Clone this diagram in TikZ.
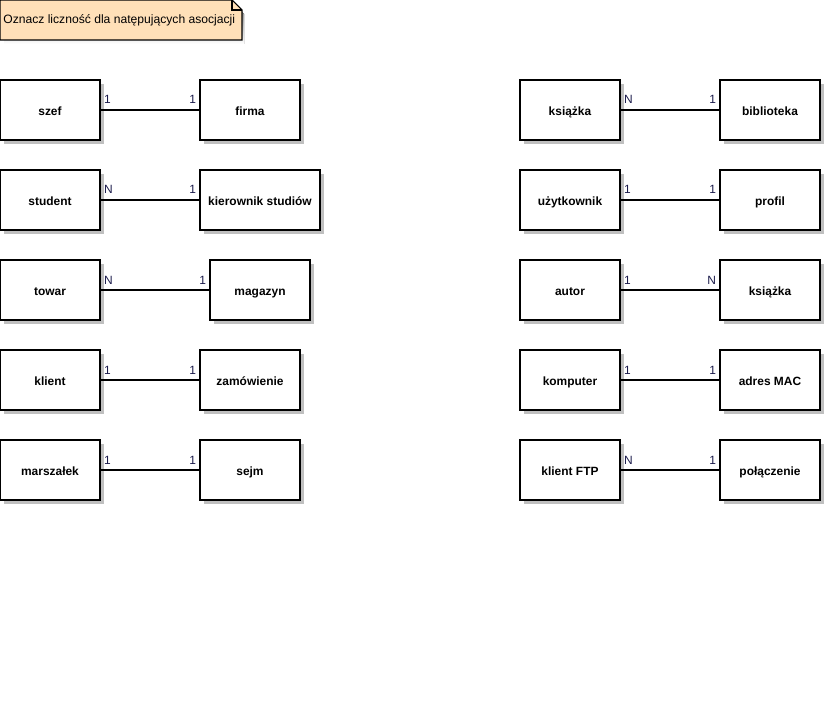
\documentclass[tikz,border=0pt]{standalone}
\usepackage{fontspec}
\setmainfont{Liberation Sans}
\usetikzlibrary{shadows}
\definecolor{notefill}{HTML}{FFE0B8}
\definecolor{shade}{HTML}{C0C0C0}
\definecolor{multi}{HTML}{1A1A4A}
\tikzset{
  entity/.style={draw, fill=white, line width=0.6pt, minimum height=1.2cm,
    minimum width=2cm, text height=1.55ex, text depth=0.45ex,
    font=\fontsize{6.8}{8}\selectfont\bfseries,
    drop shadow={shadow xshift=0.08cm, shadow yshift=-0.08cm, fill=shade, opacity=1}},
  rel/.style={line width=0.6pt},
  mult/.style={inner xsep=1.7pt, inner ysep=0pt, yshift=0.12cm, text=multi,
    font=\fontsize{6.8}{8}\selectfont}
}
\begin{document}
\begin{tikzpicture}[x = 0.02cm, y = -0.02cm]
	\useasboundingbox (0, 0) rectangle (825, 726);
	% Note
	\fill[shade] (4, 4) -- (234, 4) -- (244, 14) -- (244, 44) -- (4, 44) -- cycle;
	\draw[fill=notefill, line width=0.6pt] (0, 0) -- (232, 0) -- (242, 10) -- (242, 40) -- (0, 40) -- cycle;
	\draw[line width=0.6pt] (232, 0) -- (232, 10) -- (242, 10);
	\node[anchor=west, inner sep=0pt, font=\fontsize{6.9}{8}\selectfont] (note) at (3, 20) {Oznacz liczność dla natępujących asocjacji};

	% Nodes
	\node[entity] (szef) at (50, 110) {szef};
	\node[entity] (firma) at (250, 110) {firma};
	\node[entity] (student) at (50, 200) {student};
	\node[entity, minimum width=2.4cm] (kierownik) at (260, 200) {kierownik studiów};
	\node[entity] (towar) at (50, 290) {towar};
	\node[entity] (magazyn) at (260, 290) {magazyn};
	\node[entity] (klient) at (50, 380) {klient};
	\node[entity] (zamowienie) at (250, 380) {zamówienie};
	\node[entity] (marszalek) at (50, 470) {marszałek};
	\node[entity] (sejm) at (250, 470) {sejm};

	\node[entity] (ksiazka1) at (570, 110) {książka};
	\node[entity] (biblioteka) at (770, 110) {biblioteka};
	\node[entity] (uzytkownik) at (570, 200) {użytkownik};
	\node[entity] (profil) at (770, 200) {profil};
	\node[entity] (autor) at (570, 290) {autor};
	\node[entity] (ksiazka2) at (770, 290) {książka};
	\node[entity] (komputer) at (570, 380) {komputer};
	\node[entity] (mac) at (770, 380) {adres MAC};
	\node[entity] (ftp) at (570, 470) {klient FTP};
	\node[entity] (polaczenie) at (770, 470) {połączenie};

	% Edges
	\draw[rel] (szef) -- node[mult, pos=0, anchor=base west] {1} node[mult, pos=1, anchor=base east] {1} (firma);
	\draw[rel] (student) -- node[mult, pos=0, anchor=base west] {N} node[mult, pos=1, anchor=base east] {1} (kierownik);
	\draw[rel] (towar) -- node[mult, pos=0, anchor=base west] {N} node[mult, pos=1, anchor=base east] {1} (magazyn);
	\draw[rel] (klient) -- node[mult, pos=0, anchor=base west] {1} node[mult, pos=1, anchor=base east] {1} (zamowienie);
	\draw[rel] (marszalek) -- node[mult, pos=0, anchor=base west] {1} node[mult, pos=1, anchor=base east] {1} (sejm);
	\draw[rel] (ksiazka1) -- node[mult, pos=0, anchor=base west] {N} node[mult, pos=1, anchor=base east] {1} (biblioteka);
	\draw[rel] (uzytkownik) -- node[mult, pos=0, anchor=base west] {1} node[mult, pos=1, anchor=base east] {1} (profil);
	\draw[rel] (autor) -- node[mult, pos=0, anchor=base west] {1} node[mult, pos=1, anchor=base east] {N} (ksiazka2);
	\draw[rel] (komputer) -- node[mult, pos=0, anchor=base west] {1} node[mult, pos=1, anchor=base east] {1} (mac);
	\draw[rel] (ftp) -- node[mult, pos=0, anchor=base west] {N} node[mult, pos=1, anchor=base east] {1} (polaczenie);
\end{tikzpicture}
\end{document}
